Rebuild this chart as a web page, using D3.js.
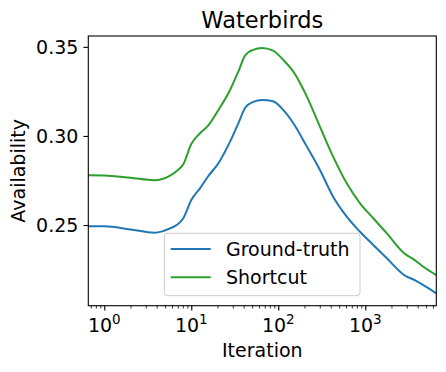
<!DOCTYPE html>
<html>
<head>
<meta charset="utf-8">
<script src="https://cdn.jsdelivr.net/npm/d3@7"></script>
<style>
  body { margin: 0; background: #fff; }
  svg { font-family: "DejaVu Sans", sans-serif; }
</style>
</head>
<body>
<div id="chart"></div>
<script>
// Werte
var iterations = [0.655, 1, 2, 3.8, 5.7, 6.8, 8.1, 10, 12.6, 15.5, 20.5, 27.9, 34.7, 42, 51.5, 65, 87, 114, 149, 213, 301, 427, 612, 870, 1235, 1770, 2800, 3700, 4650, 6550];
var groundTruth = [0.2493, 0.2493, 0.2475, 0.2457, 0.2481, 0.2500, 0.2538, 0.2640, 0.2706, 0.2771, 0.2847, 0.2968, 0.3071, 0.3161, 0.3191, 0.3202, 0.3195, 0.3146, 0.3071, 0.2940, 0.2809, 0.2659, 0.2547, 0.2462, 0.2388, 0.2313, 0.2219, 0.2190, 0.2162, 0.2116];
var shortcut = [0.2779, 0.2778, 0.2765, 0.2751, 0.2777, 0.2803, 0.2841, 0.2955, 0.3015, 0.3056, 0.3146, 0.3258, 0.3361, 0.3455, 0.3483, 0.3493, 0.3479, 0.3427, 0.3361, 0.3221, 0.3052, 0.2884, 0.2734, 0.2622, 0.2538, 0.2453, 0.2341, 0.2303, 0.2266, 0.2219];
var seriesNames = ["Ground-truth", "Shortcut"];
var seriesColors = ["#1f77b4", "#2ca02c"];
var yTicks = [0.25, 0.30, 0.35];
var xTicks = [1, 10, 100, 1000];

var width = 446, height = 372;
var m = {left: 88.3, right: 436.3, top: 36, bottom: 305.7};

var svg = d3.select("#chart").append("svg")
    .attr("width", width).attr("height", height);

var x = d3.scaleLog().domain([0.655, 6550]).range([m.left, m.right]);
var y = d3.scaleLinear().domain([0.2047, 0.3561]).range([m.bottom, m.top]);

svg.append("clipPath").attr("id", "clip")
  .append("rect").attr("x", m.left).attr("y", m.top)
  .attr("width", m.right - m.left).attr("height", m.bottom - m.top);

// Linien
var line = d3.line()
    .x(function(d){ return x(d[0]); })
    .y(function(d){ return y(d[1]); })
    .curve(d3.curveMonotoneX);

[groundTruth, shortcut].forEach(function(vals, i){
  svg.append("path")
    .datum(iterations.map(function(it, j){ return [it, vals[j]]; }))
    .attr("clip-path", "url(#clip)")
    .attr("fill", "none")
    .attr("stroke", seriesColors[i])
    .attr("stroke-width", 2)
    .attr("d", line);
});

// Achsen
var xAxis = svg.append("g").attr("transform", "translate(0," + m.bottom + ")")
  .call(d3.axisBottom(x).tickValues(xTicks).tickSize(4.9).tickSizeOuter(0).tickFormat(""));
xAxis.select(".domain").remove();
xAxis.selectAll("line").attr("stroke", "#000").attr("stroke-width", 1.1);

var minor = [];
[0.1, 1, 10, 100, 1000].forEach(function(dec){
  for (var k = 2; k <= 9; k++) {
    var v = dec * k;
    if (v >= 0.655 && v <= 6550) minor.push(v);
  }
});
svg.append("g").attr("transform", "translate(0," + m.bottom + ")")
  .call(d3.axisBottom(x).tickValues(minor).tickSize(2.8).tickFormat(""))
  .call(function(g){ g.select(".domain").remove(); })
  .selectAll("line").attr("stroke", "#000").attr("stroke-width", 0.8);

xTicks.forEach(function(t, i){
  var tx = svg.append("text")
    .attr("x", x(t)).attr("y", 332)
    .attr("text-anchor", "middle")
    .attr("font-size", 19).attr("fill", "#000");
  tx.append("tspan").text("10");
  tx.append("tspan").attr("dy", -8).attr("font-size", 13.5).text(String(i));
});

var yAxis = svg.append("g").attr("transform", "translate(" + m.left + ",0)")
  .call(d3.axisLeft(y).tickValues(yTicks).tickSize(4.9).tickPadding(5).tickFormat(d3.format(".2f")));
yAxis.select(".domain").remove();
yAxis.selectAll("line").attr("stroke", "#000").attr("stroke-width", 1.1);
yAxis.selectAll("text").attr("font-size", 19).attr("fill", "#000")
  .attr("font-family", "DejaVu Sans").attr("dy", "0.35em");

// Rahmen
svg.append("rect").attr("x", m.left).attr("y", m.top)
  .attr("width", m.right - m.left).attr("height", m.bottom - m.top)
  .attr("fill", "none").attr("stroke", "#000").attr("stroke-width", 1.1);

// Beschriftungen
svg.append("text").attr("x", (m.left + m.right) / 2).attr("y", 28)
  .attr("text-anchor", "middle").attr("font-size", 22.5).text("Waterbirds");
svg.append("text").attr("x", (m.left + m.right) / 2).attr("y", 357)
  .attr("text-anchor", "middle").attr("font-size", 19).text("Iteration");
svg.append("text")
  .attr("transform", "translate(25," + ((m.top + m.bottom) / 2) + ") rotate(-90)")
  .attr("text-anchor", "middle").attr("font-size", 19).text("Availability");

// Legende
var lg = svg.append("g").attr("transform", "translate(164.3,233.3)");
lg.append("rect").attr("width", 195.7).attr("height", 62.4).attr("rx", 3)
  .attr("fill", "#fff").attr("fill-opacity", 0.8)
  .attr("stroke", "#cccccc").attr("stroke-width", 1);
var items = lg.selectAll(".item").data(seriesNames).enter().append("g")
  .attr("transform", function(_d, i){ return "translate(0," + (15.7 + i * 28.3) + ")"; });
items.append("line").attr("x1", 6.4).attr("x2", 46.4)
  .attr("stroke", function(_d, i){ return seriesColors[i]; }).attr("stroke-width", 2);
items.append("text").attr("x", 61.7).attr("dy", "0.35em")
  .attr("font-size", 19).text(function(d){ return d; });
</script>
</body>
</html>
